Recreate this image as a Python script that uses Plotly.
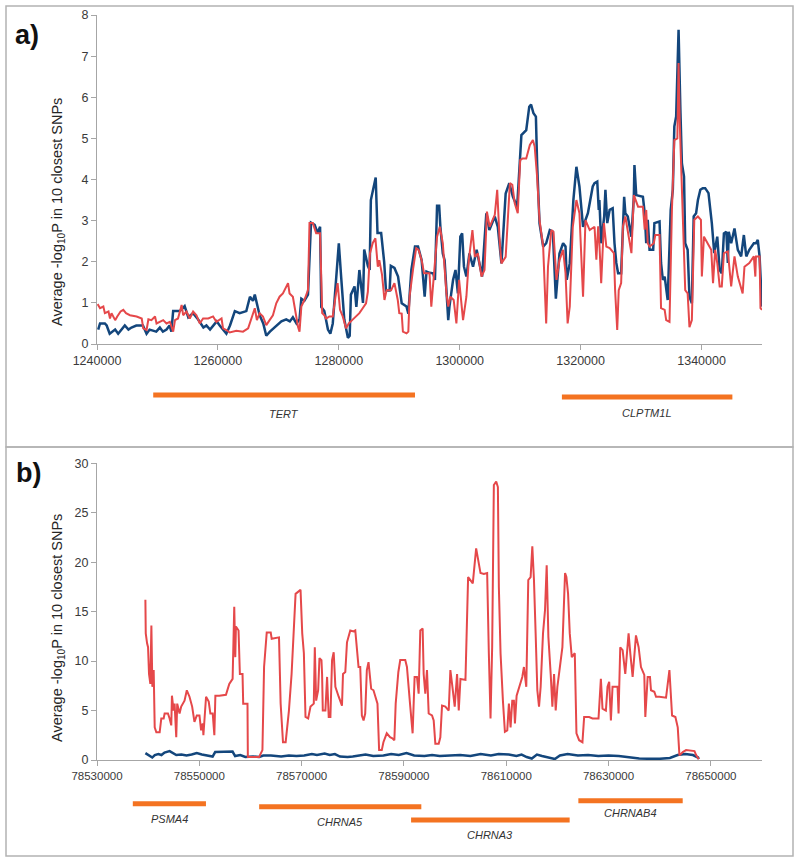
import plotly.graph_objects as go

# ---------------- Panel a data (positions in kb) ----------------
a_blue_x = [1240.2,1240.5,1241.3,1241.6,1242.1,1243.0,1243.5,1244.1,1244.6,1245.2,1245.7,1246.5,1247.6,1248.2,1248.7,1249.8,1250.4,1250.9,1251.5,1252.0,1252.3,1252.6,1253.7,1254.5,1255.1,1255.9,1256.7,1257.6,1258.1,1258.7,1259.8,1260.3,1261.1,1261.4,1262.0,1262.8,1263.6,1264.7,1265.3,1265.8,1266.1,1266.4,1266.9,1267.5,1268.0,1268.6,1269.7,1270.5,1271.3,1271.9,1272.4,1273.0,1273.5,1273.8,1274.3,1274.9,1275.4,1276.0,1276.5,1276.9,1277.1,1277.6,1278.2,1278.6,1279.0,1279.6,1280.0,1280.4,1280.9,1281.5,1281.8,1282.0,1282.6,1282.9,1283.4,1284.0,1284.2,1284.8,1285.1,1285.3,1285.7,1286.1,1286.4,1287.0,1287.5,1287.8,1288.4,1288.6,1289.2,1289.7,1289.8,1290.4,1291.2,1291.5,1292.0,1292.6,1293.1,1293.7,1294.2,1294.5,1295.0,1295.6,1295.9,1296.25,1296.6,1296.8,1297.2,1297.5,1297.8,1298.1,1298.3,1298.9,1299.3,1299.7,1300.1,1300.4,1300.7,1301.1,1301.6,1302.2,1302.8,1303.3,1303.7,1304.4,1304.9,1305.8,1306.3,1306.9,1307.6,1308.2,1308.8,1309.5,1309.9,1310.2,1311.0,1311.5,1311.8,1312.2,1312.6,1312.8,1313.2,1313.8,1314.3,1314.9,1315.4,1315.9,1316.5,1317.1,1317.5,1317.7,1318.2,1318.8,1319.3,1319.8,1320.4,1321.2,1322.0,1322.3,1322.75,1323.0,1323.1,1323.4,1323.9,1324.1,1324.4,1324.8,1325.3,1325.6,1325.9,1326.2,1326.7,1327.0,1327.2,1327.4,1327.8,1328.4,1328.8,1328.9,1329.2,1330.3,1330.6,1330.85,1331.1,1331.4,1332.0,1332.2,1333.05,1333.3,1333.6,1333.9,1334.4,1334.9,1335.25,1335.5,1335.8,1336.2,1336.4,1336.5,1336.75,1337.1,1337.3,1337.7,1338.0,1338.4,1338.7,1339.1,1339.4,1339.8,1340.2,1340.6,1341.15,1341.7,1342.1,1342.6,1343.0,1343.35,1343.7,1344.1,1344.35,1344.5,1344.9,1345.45,1346.0,1346.55,1347.0,1347.4,1347.9,1348.65,1349.0,1349.3,1349.6,1349.75,1350.0]
a_blue_y = [0.35,0.5,0.5,0.45,0.25,0.35,0.25,0.35,0.45,0.35,0.4,0.45,0.45,0.25,0.35,0.3,0.4,0.3,0.35,0.45,0.3,0.8,0.8,0.92,0.65,0.75,0.6,0.4,0.45,0.35,0.55,0.45,0.3,0.25,0.45,0.8,0.75,0.8,1.15,1.05,1.2,1.0,0.7,0.5,0.2,0.3,0.45,0.55,0.6,0.55,0.65,0.5,0.6,1.1,1.05,1.2,2.95,2.9,2.7,2.85,0.9,0.8,0.35,0.25,0.5,1.8,2.45,1.6,0.6,0.15,0.2,1.2,1.4,0.9,1.8,1.0,2.3,1.9,1.8,3.5,3.8,4.05,2.7,2.7,2.0,1.3,1.3,1.9,1.85,1.7,1.64,0.99,0.91,0.74,1.8,2.37,2.37,2.04,1.15,1.76,1.73,1.72,1.56,3.36,3.36,2.85,2.2,2.04,1.23,0.58,0.91,1.56,1.8,1.23,2.61,2.69,1.88,1.64,2.2,1.88,2.29,1.88,1.64,3.18,2.77,3.1,2.85,1.96,3.66,3.91,3.58,3.34,4.39,5.08,5.2,5.77,5.82,5.61,5.53,4.39,2.93,2.37,2.45,2.77,2.73,1.1,2.2,2.45,2.37,1.56,1.96,3.5,4.31,3.83,2.85,3.18,3.83,3.91,3.95,3.26,3.5,2.45,3.1,3.75,2.94,3.26,3.3,2.45,1.97,1.72,1.72,3.18,3.58,3.18,3.1,2.61,3.58,4.35,3.62,3.58,3.18,2.45,3.02,2.29,2.29,2.94,2.98,1.97,1.56,1.64,1.07,3.26,3.75,5.29,5.53,7.64,5.94,5.69,4.39,4.07,2.45,2.29,1.15,0.99,3.1,3.18,3.5,3.75,3.79,3.79,3.67,2.94,2.21,2.61,1.8,1.72,2.69,2.73,1.97,2.73,2.45,2.81,2.29,2.13,2.65,2.13,2.29,2.45,2.45,2.53,2.13,1.52,0.91]

a_red_x = [1240.1,1240.5,1241.05,1241.3,1241.9,1242.15,1242.4,1243.0,1243.35,1243.9,1244.35,1244.8,1245.45,1246.55,1247.4,1247.65,1248.2,1248.5,1249.0,1249.6,1249.85,1250.4,1250.95,1251.5,1252.05,1252.6,1252.9,1253.4,1254.0,1254.25,1254.8,1255.35,1255.9,1256.45,1257.0,1257.55,1258.4,1259.2,1259.75,1260.6,1260.85,1261.4,1261.95,1263.05,1264.15,1265.0,1265.5,1266.1,1266.45,1266.9,1267.45,1268.0,1268.55,1269.1,1269.65,1270.2,1270.75,1271.3,1271.6,1271.85,1272.4,1273.25,1273.5,1273.8,1274.3,1274.9,1275.15,1275.7,1276.25,1276.9,1277.25,1277.6,1277.9,1278.45,1279.0,1279.45,1279.8,1280.2,1280.65,1281.2,1281.65,1282.2,1282.75,1283.4,1283.95,1284.5,1284.8,1285.15,1285.6,1286.05,1286.45,1286.7,1287.15,1287.55,1287.9,1288.65,1289.2,1289.75,1290.0,1290.4,1290.6,1291.2,1291.5,1291.7,1292.3,1292.8,1293.2,1293.7,1294.1,1295.0,1295.3,1295.6,1296.25,1296.7,1297.2,1297.8,1298.1,1298.45,1299.0,1299.45,1299.9,1300.55,1301.1,1301.5,1302.1,1302.5,1303.0,1303.6,1304.1,1304.5,1304.95,1305.8,1306.2,1306.6,1306.9,1307.6,1308.3,1308.7,1309.1,1309.6,1310.0,1310.4,1311.0,1311.6,1312.1,1312.4,1312.8,1313.2,1313.8,1314.3,1314.6,1315.15,1315.5,1316.0,1316.5,1317.1,1317.5,1317.85,1318.2,1318.7,1319.3,1319.8,1320.4,1320.8,1321.5,1322.3,1322.6,1322.9,1323.1,1323.4,1323.85,1324.25,1324.8,1325.5,1325.7,1326.05,1326.3,1326.7,1327.0,1327.4,1327.8,1328.4,1328.8,1329.5,1330.3,1330.6,1330.85,1331.1,1331.4,1332.1,1332.35,1333.05,1333.3,1333.9,1334.15,1334.7,1335.1,1335.5,1336.0,1336.2,1336.4,1336.6,1336.9,1337.3,1337.7,1338.0,1338.4,1338.8,1339.4,1339.9,1340.05,1340.4,1341.0,1341.6,1341.9,1342.25,1342.6,1343.0,1343.35,1343.7,1344.35,1344.6,1344.9,1345.45,1346.0,1346.8,1347.1,1347.9,1348.65,1348.9,1349.0,1349.6,1349.75,1350.0]
a_red_y = [0.97,0.87,0.91,0.75,0.79,0.62,0.75,0.58,0.67,0.79,0.83,0.75,0.7,0.67,0.62,0.38,0.34,0.6,0.58,0.67,0.5,0.54,0.58,0.5,0.54,0.3,0.58,0.62,0.95,0.7,0.79,0.62,0.79,0.7,0.5,0.62,0.62,0.67,0.54,0.62,0.38,0.34,0.28,0.32,0.3,0.38,0.58,0.87,0.58,0.75,0.67,0.46,0.58,0.7,0.99,1.15,1.23,1.39,1.48,1.23,1.15,0.42,0.3,0.91,1.07,1.31,2.94,2.94,2.69,2.69,0.75,0.7,0.62,0.67,0.67,1.15,1.48,0.83,0.67,0.38,0.5,0.58,0.67,0.75,0.87,0.99,1.27,2.2,2.45,2.57,1.88,2.04,1.68,1.07,1.31,1.31,1.48,1.07,0.75,0.74,0.3,0.26,0.3,1.15,1.84,2.33,2.29,2.04,1.72,1.72,0.91,1.4,2.61,2.85,2.45,1.23,0.91,1.15,1.07,0.5,1.56,0.58,1.15,2.04,2.77,2.12,2.2,1.64,1.8,3.22,2.85,3.14,3.75,2.53,1.96,2.12,3.91,3.87,3.42,3.18,4.47,4.51,4.51,4.84,4.96,4.8,4.07,3.01,2.37,0.5,1.88,2.77,2.73,1.56,2.04,2.29,1.72,0.5,0.91,2.85,3.5,3.18,1.15,3.01,2.77,2.85,2.05,2.86,2.45,1.48,2.94,2.37,2.33,2.21,1.31,0.34,1.31,1.48,2.86,3.1,2.78,2.21,3.62,3.34,3.34,2.78,3.26,2.45,2.37,2.45,2.65,2.65,0.87,0.83,0.58,0.54,3.26,4.96,5.0,6.83,5.37,4.23,3.1,1.31,1.23,0.41,0.58,3.02,3.1,3.02,1.64,2.61,2.45,2.29,1.48,2.29,1.97,1.4,1.4,2.21,2.25,1.88,1.4,2.13,1.64,1.23,1.88,1.97,2.13,1.64,2.13,2.13,0.87,0.83]

# ---------------- Panel b data (positions in kb) ----------------
b_red_x = [78539.46,78539.53,78539.79,78539.98,78540.17,78540.43,78540.63,78540.82,78541.08,78541.28,78541.6,78542.25,78542.57,78543.03,78543.22,78543.87,78544.19,78544.52,78544.65,78544.97,78545.17,78545.49,78545.68,78546.14,78546.46,78547.11,78547.56,78548.08,78548.6,78549.05,78549.51,78550.03,78550.35,78550.67,78550.8,78551.32,78551.84,78552.16,78552.62,78552.94,78553.14,78553.91,78555.21,78555.86,78556.51,78556.83,78557.03,78557.16,78557.67,78557.93,78558.45,78558.58,78559.42,78559.49,78561.69,78562.34,78562.66,78563.18,78563.96,78564.15,78565.58,78565.9,78566.36,78566.88,78567.52,78568.04,78568.82,78569.79,78570.12,78570.44,78570.76,78571.28,78571.74,78572.38,78572.58,78572.84,78573.23,78573.49,78573.88,78574.0,78574.14,78574.65,78574.98,78575.3,78575.63,78575.95,78576.27,78576.6,78577.25,78577.89,78578.09,78578.54,78578.87,78579.51,78580.16,78580.49,78581.13,78581.46,78581.78,78582.11,78582.43,78582.75,78583.08,78583.6,78584.05,78584.37,78584.83,78585.15,78585.67,78585.99,78586.64,78587.29,78587.74,78588.13,78588.39,78588.91,78589.28,78590.26,78590.59,78591.24,78591.7,78592.09,78592.55,78592.88,78593.2,78593.66,78593.86,78594.18,78594.51,78594.84,78595.49,78595.82,78596.14,78596.8,78597.12,78597.45,78598.1,78598.76,78599.08,78599.41,78599.93,78600.39,78600.72,78601.05,78602.03,78602.55,78603.46,78604.12,78604.97,78605.62,78606.27,78606.6,78606.93,78607.25,78607.58,78608.04,78608.37,78608.56,78608.89,78609.35,78609.74,78610.2,78610.52,78610.85,78611.18,78611.5,78611.7,78612.03,78612.61,78613.14,78613.46,78613.92,78614.31,78614.77,78615.1,78615.42,78615.75,78616.08,78616.41,78616.73,78617.19,78617.58,78617.91,78618.24,78618.69,78619.02,78619.35,78619.67,78620.0,78620.65,78620.98,78621.5,78621.76,78622.09,78622.42,78622.81,78623.4,78623.73,78624.25,78624.9,78625.23,78626.21,78626.86,78628.04,78628.5,78628.82,78629.48,78629.8,78630.13,78630.46,78630.78,78631.76,78631.96,78632.29,78632.75,78633.27,78633.92,78634.25,78634.71,78635.36,78635.88,78636.34,78636.99,78637.19,78637.65,78638.1,78638.3,78638.95,78639.28,78639.93,78641.24,78641.9,78642.42,78643.07,78643.53,78643.86,78644.51,78645.16,78646.8,78647.12,78647.65]
b_red_y = [16.2,12.8,11.8,11.4,8.7,7.7,13.6,7.4,9.1,3.3,2.8,2.8,4.2,4.2,4.7,4.7,4.2,3.5,6.5,5.0,5.7,2.3,5.7,4.7,5.4,6.0,7.05,6.4,5.4,3.85,4.5,4.5,3.0,3.7,2.5,6.4,5.9,4.7,4.7,2.5,6.5,6.5,6.6,7.7,8.2,15.5,10.4,13.5,13.1,8.7,8.7,5.7,5.7,0.3,0.3,1.0,9.4,12.9,12.9,12.25,12.4,5.7,1.8,1.8,5.0,8.7,16.8,17.2,12.8,10.8,4.35,4.2,5.4,5.7,11.4,6.0,7.05,10.3,10.1,8.7,5.0,5.0,8.4,4.35,4.35,10.1,10.9,7.4,6.4,5.5,8.7,8.9,11.9,13.1,13.0,13.1,9.4,9.4,4.5,4.0,4.7,9.1,9.9,7.2,7.05,6.4,5.7,1.0,1.0,1.8,2.7,2.3,2.2,2.0,5.7,8.9,10.1,10.1,9.4,5.4,2.7,8.4,8.4,6.7,13.1,13.3,8.7,6.7,9.1,4.7,4.5,4.0,1.65,1.65,2.3,5.5,5.4,5.0,9.1,7.7,5.4,8.7,5.0,8.2,8.1,18.5,17.85,21.4,18.9,18.8,18.9,10.8,4.2,11.4,27.8,28.15,27.6,17.5,10.8,6.0,2.85,3.0,5.7,3.3,6.0,6.0,3.7,6.5,7.4,8.4,9.4,7.4,18.2,18.5,21.6,18.2,12.8,7.05,5.4,7.4,12.8,15.15,19.7,12.45,8.7,5.4,8.7,5.0,7.4,10.4,11.4,18.9,18.5,16.8,12.8,10.4,10.8,2.7,2.0,1.8,4.35,4.35,4.2,4.2,8.2,5.2,5.0,7.4,7.9,4.0,7.4,7.4,4.7,11.4,11.1,8.7,12.8,10.8,8.4,12.6,11.4,9.4,8.6,4.35,8.4,8.4,7.05,6.9,6.4,6.4,6.3,9.1,4.5,4.35,3.3,0.47,0.8,1.0,0.9,0.5,0.07]

b_blue_x = [78539.46,78540.2,78540.8,78541.3,78542.0,78542.6,78543.2,78544.2,78545.0,78545.5,78546.5,78547.5,78548.5,78549.5,78550.5,78551.5,78552.6,78553.1,78555.0,78556.5,78557.0,78558.0,78559.0,78560.5,78561.7,78562.5,78564.0,78566.0,78567.5,78569.0,78570.5,78572.0,78573.0,78574.5,78575.5,78576.5,78577.5,78579.0,78580.0,78581.0,78582.5,78584.0,78586.0,78587.5,78589.0,78590.5,78592.0,78594.0,78595.5,78597.0,78599.0,78601.0,78603.0,78605.0,78607.0,78608.5,78610.5,78612.0,78613.0,78614.0,78615.0,78616.0,78617.0,78618.5,78619.5,78620.5,78622.0,78624.0,78626.0,78628.0,78630.0,78632.0,78634.0,78636.0,78638.0,78640.0,78642.0,78643.5,78645.0,78646.5,78647.5,78647.65]
b_blue_y = [0.7,0.45,0.25,0.5,0.6,0.5,0.75,0.9,0.7,0.5,0.55,0.45,0.55,0.7,0.55,0.45,0.35,0.8,0.8,0.85,0.4,0.5,0.3,0.35,0.3,0.45,0.45,0.35,0.45,0.4,0.45,0.6,0.5,0.65,0.5,0.6,0.35,0.3,0.35,0.45,0.55,0.4,0.45,0.6,0.5,0.7,0.45,0.4,0.5,0.4,0.45,0.5,0.4,0.6,0.45,0.6,0.55,0.4,0.55,0.3,0.15,0.55,0.4,0.2,0.1,0.45,0.6,0.45,0.5,0.4,0.45,0.4,0.25,0.15,0.12,0.12,0.2,0.5,0.6,0.5,0.25,0.1]

# ---------------- Genes (kb) ----------------
a_genes = ["TERT", "CLPTM1L"]
a_gene_start = [1249.3, 1316.9]
a_gene_end = [1292.6, 1345.1]

b_genes = ["PSMA4", "CHRNA5", "CHRNA3", "CHRNAB4"]
b_gene_start = [78537.0, 78561.7, 78591.4, 78624.1]
b_gene_end = [78551.3, 78593.4, 78622.4, 78644.5]

a_ticks = [1240000, 1260000, 1280000, 1300000, 1320000, 1340000]
b_ticks = [78530000, 78550000, 78570000, 78590000, 78610000, 78630000, 78650000]

# ---------------- styles ----------------
BLUE = "#13467c"
RED = "#e5484a"
ORANGE = "#f47321"
AXIS = "#a6a6a6"
FONT = "Liberation Sans, Arial, sans-serif"

def bp(v):
    return [x * 1000 for x in v]

fig = go.Figure()
fig.add_trace(go.Scatter(x=bp(a_blue_x), y=a_blue_y, mode="lines",
                         line=dict(color=BLUE, width=2.5), xaxis="x", yaxis="y", showlegend=False))
fig.add_trace(go.Scatter(x=bp(a_red_x), y=a_red_y, mode="lines",
                         line=dict(color=RED, width=2.0), xaxis="x", yaxis="y", showlegend=False))
fig.add_trace(go.Scatter(x=bp(b_blue_x), y=b_blue_y, mode="lines",
                         line=dict(color=BLUE, width=2.5), xaxis="x2", yaxis="y2", showlegend=False))
fig.add_trace(go.Scatter(x=bp(b_red_x), y=b_red_y, mode="lines",
                         line=dict(color=RED, width=2.0), xaxis="x2", yaxis="y2", showlegend=False))

W, H = 800, 863
xd = [97 / W, 762 / W]
ya = [1 - 344 / H, 1 - 15 / H]
yb = [1 - 760 / H, 1 - 463.3 / H]

axis_common = dict(showline=True, linecolor=AXIS, linewidth=1.3, ticks="outside",
                   ticklen=5, tickcolor=AXIS, tickwidth=1.2, showgrid=False, zeroline=False,
                   automargin=False,
                   tickfont=dict(family=FONT, size=12.5, color="#3a3a3a"))

fig.update_layout(
    width=W, height=H, margin=dict(l=0, r=0, t=0, b=0, autoexpand=False),
    paper_bgcolor="white", plot_bgcolor="white",
    xaxis=dict(domain=xd, anchor="y", range=[1240000, 1350000], tickvals=a_ticks,
               tickformat="d", **axis_common),
    yaxis=dict(domain=ya, anchor="x", range=[0, 8], dtick=1, **axis_common),
    xaxis2=dict(domain=xd, anchor="y2", range=[78530000, 78660000], tickvals=b_ticks,
                tickformat="d", **{**axis_common, "tickfont": dict(family=FONT, size=11.5, color="#3a3a3a")}),
    yaxis2=dict(domain=yb, anchor="x2", range=[0, 30], dtick=5, **axis_common),
)

shapes = []
# panel frames
shapes.append(dict(type="rect", xref="paper", yref="paper", x0=6 / W, x1=793 / W,
                   y0=1 - 447 / H, y1=1 - 6 / H, line=dict(color="#b3b3b3", width=1.5)))
shapes.append(dict(type="rect", xref="paper", yref="paper", x0=6 / W, x1=793 / W,
                   y0=1 - 856 / H, y1=1 - 447 / H, line=dict(color="#b3b3b3", width=1.5)))

annotations = []
a_bar_y = [395, 397]
a_lab_y = [414, 413]
for g, s, e, by, ly in zip(a_genes, a_gene_start, a_gene_end, a_bar_y, a_lab_y):
    shapes.append(dict(type="line", xref="x", yref="paper", x0=s * 1000, x1=e * 1000,
                       y0=1 - by / H, y1=1 - by / H, line=dict(color=ORANGE, width=5)))
    annotations.append(dict(xref="x", yref="paper", x=(s + e) / 2 * 1000, y=1 - ly / H,
                            xanchor="center", yanchor="middle",
                            text="<i>%s</i>" % g, showarrow=False,
                            font=dict(family=FONT, size=11, color="#333333")))

b_bar_y = [803.7, 806.7, 820, 800.7]
b_lab_y = [819, 822, 835, 813]
for g, s, e, by, ly in zip(b_genes, b_gene_start, b_gene_end, b_bar_y, b_lab_y):
    shapes.append(dict(type="line", xref="x2", yref="paper", x0=s * 1000, x1=e * 1000,
                       y0=1 - by / H, y1=1 - by / H, line=dict(color=ORANGE, width=5)))
    annotations.append(dict(xref="x2", yref="paper", x=(s + e) / 2 * 1000, y=1 - ly / H,
                            xanchor="center", yanchor="middle",
                            text="<i>%s</i>" % g, showarrow=False,
                            font=dict(family=FONT, size=11, color="#333333")))

ytitle = "Average -log<sub>10</sub>P in 10 closest SNPs"
for yc in (212, 628):
    annotations.append(dict(xref="paper", yref="paper", x=58 / W, y=1 - yc / H, text=ytitle,
                            textangle=-90, showarrow=False, xanchor="center", yanchor="middle",
                            font=dict(family=FONT, size=14.5, color="#262626")))
annotations.append(dict(xref="paper", yref="paper", x=27 / W, y=1 - 35 / H, text="<b>a)</b>",
                        xanchor="center", yanchor="middle",
                        showarrow=False, font=dict(family=FONT, size=27, color="#111111")))
annotations.append(dict(xref="paper", yref="paper", x=29 / W, y=1 - 473 / H, text="<b>b)</b>",
                        xanchor="center", yanchor="middle",
                        showarrow=False, font=dict(family=FONT, size=27, color="#111111")))

fig.update_layout(shapes=shapes, annotations=annotations)
fig.write_html("out.html", config={"displayModeBar": False},
               post_script="document.body.style.margin='0px';document.body.style.padding='0px';")
